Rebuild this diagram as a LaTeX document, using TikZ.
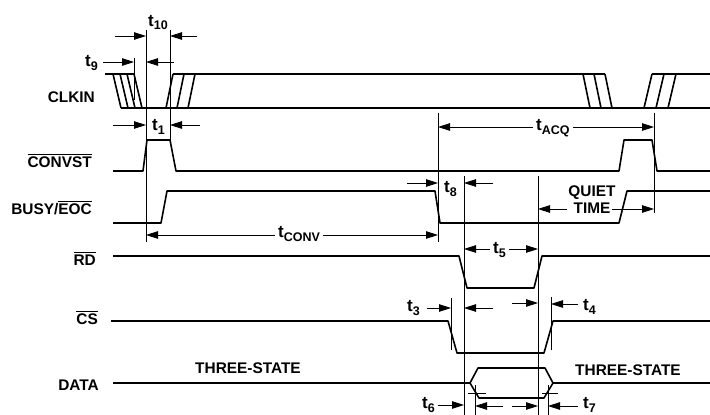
\documentclass[tikz,border=0pt]{standalone}
\usepackage{fontspec}
\setmainfont{Liberation Sans}
\usetikzlibrary{arrows.meta,positioning,calc}

\newcommand{\tname}[1]{{\fontsize{17}{17}\selectfont t}\raisebox{-4pt}{\fontsize{12.5}{12.5}\selectfont #1}}
\newcommand{\ovl}[1]{\vbox{\hrule height 1.3pt\kern 1.8pt\hbox{#1}}}

\begin{document}
\begin{tikzpicture}
[x=1pt,y=-1pt,
%
sig/.style={line width=1.6pt,line join=round},
vline/.style={line width=0.7pt},
dim/.style={line width=0.8pt,-{Triangle[length=12pt,width=7.5pt]}},
ddim/.style={line width=0.8pt,{Triangle[length=12pt,width=7.5pt]}-{Triangle[length=12pt,width=7.5pt]}},
sname/.style={font=\bfseries\fontsize{15.4}{17}\selectfont,inner sep=0pt,anchor=east},
tlab/.style={font=\bfseries,inner sep=0pt,anchor=base west},
gap/.style={tlab,fill=white,inner xsep=3pt}]
%
\useasboundingbox (0,0) rectangle (710,415);
%
%% signal names
\node[sname] (clkin) at (95,97) {CLKIN};
\node[sname] (convst) at (92,161) {\ovl{CONVST}};
\node[sname] (busy) at (92,208) {BUSY/\ovl{EOC}};
\node[sname] (rd) at (96,259) {\ovl{RD}};
\node[sname] (cs) at (98,318) {\ovl{CS}};
\node[sname] (data) at (99,385) {DATA};
%
%% CLKIN
\draw[sig] (105,74) -- (134,74);
\foreach \a in {113,120,127,134}
\draw[sig] (\a,74) -- (\a+8,108);
\draw[sig] (121,108) -- (710,108);
\foreach \a in {166,177,188}
\draw[sig] (\a,108) -- (\a+7,74);
\draw[sig] (173,74) -- (605,74);
\foreach \a in {583,594,605}
\draw[sig] (\a,74) -- (\a+7,108);
\foreach \a in {644,656,668}
\draw[sig] (\a,108) -- (\a+8,74);
\draw[sig] (652,74) -- (710,74);
%
%% CONVST, BUSY, RD, CS
\draw[sig] (113,171) -- (143,171) -- (147,140) -- (170,140) -- (176,171)
  -- (619,171) -- (624,140) -- (652,140) -- (657,171) -- (710,171);
\draw[sig] (113,223) -- (161,223) -- (167,191) -- (435,191) -- (440,223)
  -- (619,223) -- (627,191) -- (710,191);
\draw[sig] (113,256) -- (459,256) -- (467,288) -- (534,288) -- (542,256) -- (710,256);
\draw[sig] (111,321) -- (448,321) -- (457,353) -- (544,353) -- (553,321) -- (710,321);
%
%% DATA
\draw[sig] (113,383) -- (470,383) -- (478,368) -- (545,368) -- (553,383) -- (710,383);
\draw[sig] (470,383) -- (479,398) -- (544,398) -- (553,383);
\draw[vline] (468,393) -- (486,393);
\draw[vline] (542,393) -- (558,393);
%
%% timing marks
\foreach \x/\a/\b in {134/58/100,146/30/242,170/30/140,438/113/242,654/113/213,
  464/176/415,538/176/415,451/298/350,551/297/350,475/385/415,548/385/415}
\draw[vline] (\x,\a) -- (\x,\b);
%
%% t10, t9, t1
\node[tlab] (t10) at (148,26) {\tname{10}};
\draw[dim] (115,36) -- (146,36);
\draw[dim] (197,36) -- (170,36);
\node[tlab] (t9) at (85,66) {\tname{9}};
\draw[dim] (103,62) -- (134,62);
\draw[dim] (174,62) -- (146,62);
\node[tlab] (t1) at (152,130) {\tname{1}};
\draw[dim] (113,125) -- (146,125);
\draw[dim] (200,125) -- (170,125);
%
%% tACQ, tCONV
\draw[ddim] (438,127) -- (654,127);
\node[gap] (tacq) at (533,130) {\tname{ACQ}};
\draw[ddim] (146,235) -- (438,235);
\node[gap] (tconv) at (275,237) {\tname{CONV}};
%
%% t8, quiet time, t5
\node[tlab] (t8) at (444,192) {\tname{8}};
\draw[dim] (407,183) -- (438,183);
\draw[dim] (493,183) -- (464,183);
\node[sname,anchor=center,align=center] (quiet) at (592,200) {QUIET\\TIME};
\draw[dim] (567,209) -- (538,209);
\draw[dim] (612,209) -- (654,209);
\draw[ddim] (464,249) -- (538,249);
\node[gap] (t5) at (490,253) {\tname{5}};
%
%% t3, t4
\node[tlab] (t3) at (407,311) {\tname{3}};
\draw[dim] (427,308) -- (451,308);
\draw[dim] (493,308) -- (464,308);
\draw[dim] (512,303) -- (538,303);
\node[tlab] (t4) at (583,310) {\tname{4}};
\draw[dim] (578,304) -- (551,304);
%
%% t6, t7
\node[tlab] (t6) at (422,408) {\tname{6}};
\draw[dim] (438,405) -- (464,405);
\draw[dim] (503,406) -- (475,406);
\draw[dim] (512,406) -- (538,406);
\node[tlab] (t7) at (583,408) {\tname{7}};
\draw[dim] (578,406) -- (548,406);
%
%% three-state
\node[sname,anchor=center] (hiz1) at (248,368) {THREE-STATE};
\node[sname,anchor=center] (hiz2) at (628,370) {THREE-STATE};
\end{tikzpicture}
\end{document}
